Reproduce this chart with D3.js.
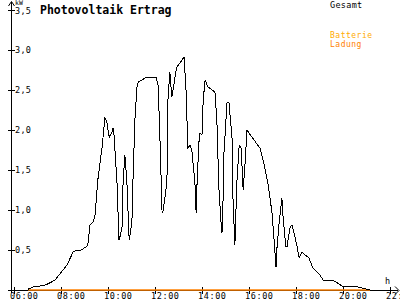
<!DOCTYPE html>
<html>
<head>
<meta charset="utf-8">
<script src="https://cdn.jsdelivr.net/npm/d3@7"></script>
<style>
  body { margin: 0; background: #fff; }
  svg { display: block; }
  text { font-family: "DejaVu Sans Mono", monospace; }
</style>
</head>
<body>
<div id="container"></div>
<script>
let w = 400;
let h = 300;

// Gesamt (kW) over the day
let times = ["06:36","06:49","07:06","07:19","07:32","07:45","07:57","08:15","08:31","08:41",
  "08:49","08:59","09:06","09:09","09:14","09:22","09:27","09:34","09:45","09:52",
  "09:57","10:03","10:10","10:13","10:15","10:23","10:28","10:31","10:36","10:38",
  "10:43","10:48","10:54","11:01","11:04","11:09","11:14","11:17","11:27","11:34",
  "11:47","11:55","12:03","12:08","12:13","12:18","12:20","12:28","12:31","12:33",
  "12:38","12:43","12:46","12:54","12:56","13:09","13:14","13:19","13:24","13:29",
  "13:34","13:37","13:42","13:45","13:47","13:52","13:55","14:00","14:03","14:08",
  "14:15","14:26","14:33","14:38","14:43","14:49","14:51","14:54","14:56","15:04",
  "15:09","15:17","15:19","15:24","15:29","15:35","15:40","15:45","15:50","15:55",
  "16:03","16:28","16:36","16:48","16:59","17:04","17:09","17:11","17:17","17:24",
  "17:27","17:34","17:37","17:45","17:50","17:55","18:03","18:08","18:15","18:23",
  "18:33","18:43","19:01","19:09","19:32","19:45","20:00","20:36","21:01","21:09"];
let gesamt = [0.01,0.04,0.05,0.06,0.09,0.125,0.2,0.31,0.475,0.5,
  0.49,0.525,0.54,0.59,0.81,0.85,0.94,1.375,1.79,2.15,
  2.1,1.91,1.975,2.025,1.96,1.34,0.625,0.675,0.79,1.29,
  1.69,1.375,0.625,0.84,1.41,2.16,2.54,2.6,2.625,2.65,
  2.66,2.65,2.66,2.56,1.84,0.975,0.975,1.25,1.46,2.375,
  2.725,2.41,2.5,2.75,2.79,2.875,2.91,2.525,1.775,1.81,
  1.75,1.59,1.34,0.96,1.29,1.84,1.96,1.94,2.375,2.625,
  2.54,2.5,2.475,2.125,1.29,0.81,0.71,1.16,1.71,2.35,
  2.34,1.875,1.16,0.56,1.34,1.81,1.775,1.25,1.59,2.0,
  1.94,1.775,1.625,1.34,0.96,0.625,0.29,0.5,0.84,1.15,
  0.91,0.54,0.54,0.79,0.81,0.71,0.54,0.4,0.475,0.44,
  0.4,0.275,0.19,0.125,0.125,0.09,0.04,0.04,0.01,0];

// Ladung (battery charge) stays at zero
let ladungTimes = ["06:36","21:09"];
let ladung = [0, 0];

let hourTicks = [6, 8, 10, 12, 14, 16, 18, 20, 22];
let kwTicks = [0.5, 1.0, 1.5, 2.0, 2.5, 3.0, 3.5];

function toHours(s){
  let p = s.split(":");
  return +p[0] + p[1] / 60;
}

let viz = d3.select("#container")
  .append("svg")
    .attr("width", w)
    .attr("height", h)
;

let x = d3.scaleLinear().domain([6, 22]).range([14, 390]);
let y = d3.scaleLinear().domain([0, 3.5]).range([290, 10]);

// axes lines
viz.append("line")
  .attr("x1", 11.5).attr("x2", 11.5)
  .attr("y1", 2).attr("y2", 293)
  .attr("stroke", "#000").attr("shape-rendering", "crispEdges");
viz.append("path")
  .attr("d", "M8.5,6 L11.5,1.5 L14.5,6")
  .attr("fill", "none").attr("stroke", "#000");
viz.append("line")
  .attr("x1", 8).attr("x2", 398)
  .attr("y1", 290.5).attr("y2", 290.5)
  .attr("stroke", "#000").attr("shape-rendering", "crispEdges");
viz.append("path")
  .attr("d", "M395,286.5 L399,290.5 L395,294.5")
  .attr("fill", "none").attr("stroke", "#000");

// y ticks
let yTicks = viz.append("g").attr("class", "yTicks");
yTicks.selectAll("line").data(kwTicks).enter()
  .append("line")
    .attr("x1", 8).attr("x2", 15)
    .attr("y1", d => Math.round(y(d)) + 0.5)
    .attr("y2", d => Math.round(y(d)) + 0.5)
    .attr("stroke", "#000").attr("shape-rendering", "crispEdges")
;
yTicks.selectAll("text").data(kwTicks).enter()
  .append("text")
    .text(d => d.toFixed(1).replace(".", ","))
    .attr("x", 15)
    .attr("y", d => y(d) + (d == 3.5 ? 4 : 3))
    .attr("font-size", 8.5)
    .attr("letter-spacing", 0.3)
;
viz.append("text").text("kW")
  .attr("x", 15).attr("y", 5)
  .attr("font-size", 6.5);

// x ticks
let xTicks = viz.append("g").attr("class", "xTicks");
xTicks.selectAll("line").data(hourTicks).enter()
  .append("line")
    .attr("x1", d => Math.round(x(d)) + 0.5)
    .attr("x2", d => Math.round(x(d)) + 0.5)
    .attr("y1", 287).attr("y2", 294)
    .attr("stroke", "#000").attr("shape-rendering", "crispEdges")
;
xTicks.selectAll("text").data(hourTicks).enter()
  .append("text")
    .text(d => (d < 10 ? "0" : "") + d + ":00")
    .attr("x", d => x(d) - 4)
    .attr("y", 299)
    .attr("font-size", 8.5)
    .attr("letter-spacing", 0.6)
;
viz.append("text").text("h")
  .attr("x", 385).attr("y", 284)
  .attr("font-size", 8.5);

// lines
let line = d3.line()
  .x(d => x(toHours(d[0])))
  .y(d => y(d[1]));

viz.append("path")
  .datum(d3.zip(ladungTimes, ladung))
  .attr("d", line)
  .attr("fill", "none")
  .attr("stroke", "#ff8000")
  .attr("stroke-width", 1.5)
;

viz.append("path")
  .datum(d3.zip(times, gesamt))
  .attr("d", line)
  .attr("fill", "none")
  .attr("stroke", "#000")
  .attr("stroke-width", 1)
  .attr("shape-rendering", "crispEdges")
;

// title + legend
viz.append("text").text("Photovoltaik Ertrag")
  .attr("x", 40).attr("y", 14)
  .attr("font-size", 11.5).attr("font-weight", "bold");
viz.append("text").text("Gesamt")
  .attr("x", 330).attr("y", 8)
  .attr("font-size", 8.5).attr("letter-spacing", 0.3).attr("fill", "#000");
viz.append("text").text("Batterie")
  .attr("x", 330).attr("y", 38)
  .attr("font-size", 8).attr("letter-spacing", 0.5).attr("fill", "#ffaa00");
viz.append("text").text("Ladung")
  .attr("x", 330).attr("y", 46.5)
  .attr("font-size", 8).attr("letter-spacing", 0.5).attr("fill", "#ff8000");
</script>
</body>
</html>
